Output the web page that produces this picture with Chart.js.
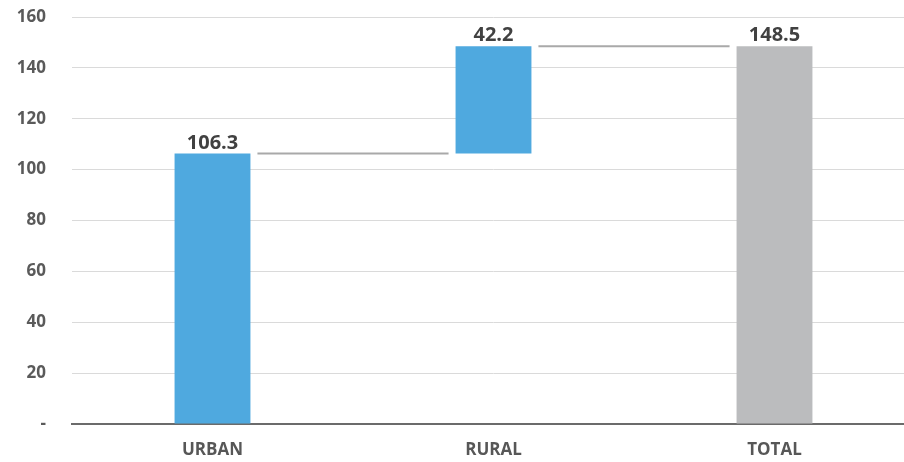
<!DOCTYPE html>
<html>
<head>
<meta charset="utf-8">
<script src="https://cdn.jsdelivr.net/npm/chart.js@4"></script>
<style>
  html, body { margin: 0; padding: 0; background: #fff; overflow: hidden; }
  #wrap { width: 915px; height: 462px; }
</style>
</head>
<body>
<div id="wrap"><canvas id="waterfall"></canvas></div>
<script>
// Datos del gráfico de cascada
const categories = ["URBAN", "RURAL", "TOTAL"];
const barStart = [0, 106.3, 0];
const barEnd = [106.3, 148.5, 148.5];
const valueLabels = ["106.3", "42.2", "148.5"];
const barColors = ["#4fa9df", "#4fa9df", "#bbbcbe"];
const yTicks = [0, 20, 40, 60, 80, 100, 120, 140, 160];

// Líneas de conexión entre barras y etiquetas de valor
const waterfallExtras = {
  id: "waterfallExtras",
  afterDatasetsDraw(chart) {
    const { ctx, scales } = chart;
    const meta = chart.getDatasetMeta(0);
    ctx.save();
    ctx.strokeStyle = "#a9a9a9";
    ctx.lineWidth = 2;
    for (let i = 0; i < meta.data.length - 1; i++) {
      const a = meta.data[i];
      const b = meta.data[i + 1];
      const y = scales.y.getPixelForValue(barEnd[i]);
      ctx.beginPath();
      ctx.moveTo(a.x + a.width / 2 + 7, y);
      ctx.lineTo(b.x - b.width / 2 - 7, y);
      ctx.stroke();
    }
    ctx.fillStyle = "#414141";
    ctx.font = "bold 20px 'Open Sans'";
    ctx.textAlign = "center";
    ctx.textBaseline = "alphabetic";
    meta.data.forEach((bar, i) => {
      const top = scales.y.getPixelForValue(barEnd[i]);
      ctx.fillText(valueLabels[i], bar.x, top - 5);
    });
    ctx.restore();
  },
};

const ctx = document.getElementById("waterfall").getContext("2d");
new Chart(ctx, {
  type: "bar",
  data: {
    labels: categories,
    datasets: [
      {
        data: categories.map((c, i) => [barStart[i], barEnd[i]]),
        backgroundColor: barColors,
        borderWidth: 0,
        barPercentage: 0.27,
        categoryPercentage: 1,
      },
    ],
  },
  options: {
    responsive: true,
    maintainAspectRatio: false,
    animation: false,
    layout: { padding: { top: 17, right: 0, bottom: 0, left: 0 } },
    plugins: {
      legend: { display: false },
      tooltip: { enabled: false },
    },
    scales: {
      x: {
        grid: { display: false, drawTicks: false },
        border: { color: "#6b6b6b", width: 2 },
        ticks: {
          color: "#575757",
          padding: 16,
          font: { family: "'Open Sans'", weight: "bold", size: 17 },
        },
        afterFit: (s) => { s.height = 38; },
      },
      y: {
        min: 0,
        max: 160,
        afterBuildTicks: (s) => { s.ticks = yTicks.map((v) => ({ value: v })); },
        // marcas invisibles: separan las etiquetas del área sin añadir relleno vertical
        grid: { color: "#dadada", lineWidth: 1, drawTicks: true, tickLength: 26, tickColor: "rgba(0,0,0,0)" },
        border: { display: false },
        ticks: {
          color: "#5a5a5a",
          padding: 0,
          font: { family: "'Open Sans'", weight: "bold", size: 17 },
          callback: (v) => (v === 0 ? "-" : v),
        },
        afterFit: (s) => { s.width = 72; },
      },
    },
  },
  plugins: [waterfallExtras],
});
</script>
</body>
</html>
